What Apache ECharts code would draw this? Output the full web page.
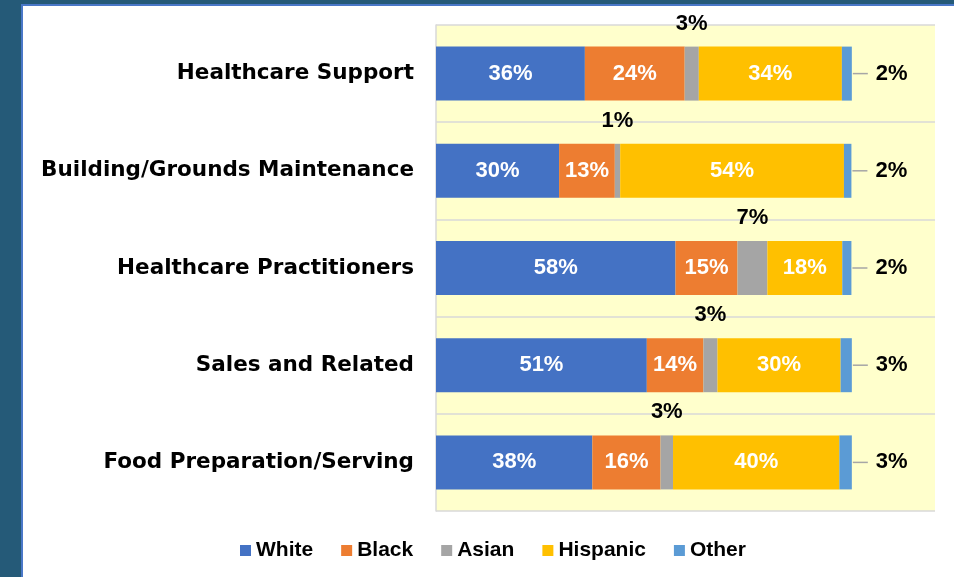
<!DOCTYPE html>
<html>
<head>
<meta charset="utf-8">
<script src="https://cdn.jsdelivr.net/npm/echarts@6/dist/echarts.min.js"></script>
<style>
  html, body { margin: 0; padding: 0; background: #255a78; }
  #chart { width: 954px; height: 577px; }
</style>
</head>
<body>
<div id="chart"></div>
<script>
var categories = ['Healthcare Support', 'Building/Grounds Maintenance', 'Healthcare Practitioners', 'Sales and Related', 'Food Preparation/Serving'];
var white    = [35.8, 29.6, 57.6, 50.7, 37.6];
var black    = [24.0, 13.4, 14.9, 13.6, 16.4];
var asian    = [3.4, 1.3, 7.2, 3.4, 3.0];
var hispanic = [34.4, 53.8, 18.0, 29.6, 40.0];
var other    = [2.4, 1.8, 2.2, 2.7, 3.0];

var chart = echarts.init(document.getElementById('chart'));

function pct(p) { return Math.round(p.value) + '%'; }

var labelFont = { fontFamily: 'Liberation Sans', fontWeight: 'bold', fontSize: 22 };

function seriesOf(name, data, color, label) {
    return {
        name: name,
        type: 'bar',
        stack: 'total',
        data: data,
        barWidth: 54,
        itemStyle: { color: color },
        label: label
    };
}

var inside = Object.assign({ show: true, position: 'inside', color: '#fff', formatter: pct }, labelFont);
var above = Object.assign({ show: true, position: 'top', distance: 12, color: '#000', formatter: pct }, labelFont);
// "Other" label sits right of the bar behind a short grey leader line
var right = {
    show: true,
    position: 'right',
    distance: 1,
    formatter: function (p) { return '{line|}{val|' + Math.round(p.value) + '%}'; },
    rich: {
        line: { width: 15, height: 1.5, backgroundColor: '#a6a6a6' },
        val: Object.assign({ color: '#000', padding: [0, 0, 0, 8] }, labelFont)
    }
};

var option = {
    animation: false,
    backgroundColor: '#fff',
    graphic: [
        { type: 'rect', z: -10, shape: { x: 0, y: 0, width: 954, height: 577 }, style: { fill: '#255a78' } },
        { type: 'rect', z: -9, shape: { x: 21, y: 4, width: 933, height: 573 }, style: { fill: '#4a78c8' } },
        { type: 'rect', z: -8, shape: { x: 23, y: 6, width: 931, height: 571 }, style: { fill: '#fff' } }
    ],
    grid: {
        left: 436, right: 19, top: 25, bottom: 66,
        show: true, backgroundColor: '#ffffcc', borderWidth: 0
    },
    legend: {
        left: 240, top: 540, padding: 0,
        icon: 'rect', itemWidth: 11, itemHeight: 11, itemGap: 28,
        textStyle: { fontFamily: 'Liberation Sans', fontWeight: 'bold', fontSize: 21, color: '#000' },
        data: ['White', 'Black', 'Asian', 'Hispanic', 'Other']
    },
    xAxis: {
        type: 'value', min: 0, max: 120,
        axisLabel: { show: false }, axisLine: { show: false },
        axisTick: { show: false }, splitLine: { show: false }
    },
    yAxis: {
        type: 'category', inverse: true, data: categories,
        axisTick: { show: false },
        axisLine: { show: true, lineStyle: { color: '#d9d9d9', width: 1.5 } },
        splitLine: { show: true, lineStyle: { color: '#d9d9d9', width: 1.5 } },
        axisLabel: { margin: 22, color: '#000', fontFamily: 'DejaVu Sans', fontWeight: 'bold', fontSize: 21.5 }
    },
    series: [
        seriesOf('White', white, '#4472c4', inside),
        seriesOf('Black', black, '#ed7d31', inside),
        seriesOf('Asian', asian, '#a5a5a5', above),
        seriesOf('Hispanic', hispanic, '#ffc000', inside),
        seriesOf('Other', other, '#5b9bd5', right)
    ]
};

chart.setOption(option);
</script>
</body>
</html>
